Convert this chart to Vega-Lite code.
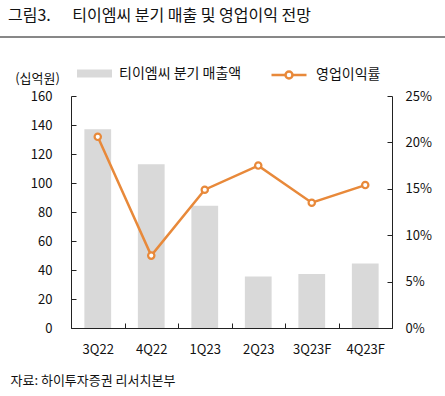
{
  "$schema": "https://vega.github.io/schema/vega-lite/v6.json",
  "width": 321,
  "height": 232,
  "autosize": {"type": "none"},
  "padding": {"left": 71, "top": 96, "right": 53, "bottom": 68},
  "background": "white",
  "title": {
    "text": "그림3.\u00a0\u00a0\u00a0\u00a0\u00a0\u00a0티이엠씨 분기 매출 및 영업이익 전망",
    "anchor": "start",
    "frame": "group",
    "orient": "top",
    "offset": 13,
    "dx": -63,
    "font": "Noto Sans CJK KR",
    "fontSize": 16,
    "fontWeight": "normal",
    "color": "#111"
  },
  "config": {
    "font": "Noto Sans CJK KR",
    "view": {"stroke": null},
    "axis": {
      "labelFont": "Noto Sans CJK KR",
      "labelFontSize": 13,
      "labelColor": "#111",
      "domainColor": "#222",
      "tickColor": "#222",
      "grid": false,
      "titleFont": "Noto Sans CJK KR",
      "titleFontWeight": "normal",
      "titleFontSize": 13,
      "titleColor": "#111"
    },
    "legend": {
      "labelFont": "Noto Sans CJK KR",
      "labelFontSize": 14,
      "labelColor": "#111",
      "padding": 0
    }
  },
  "data": {
    "values": [
      {"q": "3Q22", "sales": 137, "margin": 0.206},
      {"q": "4Q22", "sales": 113, "margin": 0.078},
      {"q": "1Q23", "sales": 84.3, "margin": 0.149},
      {"q": "2Q23", "sales": 35.5, "margin": 0.175},
      {"q": "3Q23F", "sales": 37.3, "margin": 0.135},
      {"q": "4Q23F", "sales": 44.5, "margin": 0.154}
    ]
  },
  "encoding": {
    "x": {
      "field": "q",
      "type": "nominal",
      "sort": null,
      "scale": {"paddingInner": 0, "paddingOuter": 0},
      "axis": {
        "labelAngle": 0,
        "tickBand": "extent",
        "tickSize": -5,
        "labelPadding": 20,
        "title": "자료: 하이투자증권 리서치본부",
        "titleX": -61,
        "titleY": 52,
        "titleAlign": "left",
        "titleBaseline": "middle"
      }
    }
  },
  "layer": [
    {
      "mark": {"type": "bar", "width": {"band": 0.5}},
      "encoding": {
        "y": {
          "field": "sales",
          "type": "quantitative",
          "scale": {"domain": [0, 160], "nice": false},
          "axis": {
            "values": [0, 20, 40, 60, 80, 100, 120, 140, 160],
            "tickSize": -5,
            "labelPadding": 24,
            "title": "(십억원)",
            "titleAngle": 0,
            "titleX": -34,
            "titleY": -18,
            "titleAlign": "center",
            "titleBaseline": "middle"
          }
        },
        "fill": {
          "datum": "티이엠씨 분기 매출액",
          "scale": {"range": ["#D9D9D9"]},
          "legend": {
            "title": null,
            "orient": "none",
            "legendX": 6,
            "legendY": -40,
            "symbolType": "M-1,-0.23H1V0.23H-1Z",
            "symbolSize": 1225,
            "symbolStrokeWidth": 0,
            "labelOffset": 7
          }
        }
      }
    },
    {
      "mark": {"type": "line", "strokeWidth": 2.5},
      "encoding": {
        "y": {
          "field": "margin",
          "type": "quantitative",
          "scale": {"domain": [0, 0.25], "nice": false},
          "axis": {
            "orient": "right",
            "values": [0, 0.05, 0.1, 0.15, 0.2, 0.25],
            "format": ".0%",
            "tickSize": -5,
            "labelPadding": 18,
            "title": null
          }
        },
        "stroke": {
          "datum": "영업이익률",
          "scale": {"range": ["#E8893A"]},
          "legend": {
            "title": null,
            "orient": "none",
            "legendX": 199,
            "legendY": -40,
            "symbolType": "M-1,0H-0.2M0.2,0H1M-0.2,0A0.2,0.2 0 1,0 0.2,0A0.2,0.2 0 1,0 -0.2,0",
            "symbolSize": 1225,
            "symbolStrokeWidth": 2.5,
            "symbolFillColor": "white",
            "labelOffset": 8
          }
        }
      }
    },
    {
      "mark": {"type": "point", "filled": true, "fill": "white", "stroke": "#E8893A", "strokeWidth": 2.2, "size": 40, "opacity": 1},
      "encoding": {
        "y": {"field": "margin", "type": "quantitative", "scale": {"domain": [0, 0.25], "nice": false}, "axis": null}
      }
    },
    {
      "data": {"values": [{}]},
      "mark": {"type": "rule", "stroke": "#111", "strokeWidth": 1},
      "encoding": {
        "x": {"value": -71},
        "x2": {"value": 374},
        "y": {"value": -59}
      }
    }
  ],
  "resolve": {"scale": {"y": "independent", "fill": "independent", "stroke": "independent"}}
}
